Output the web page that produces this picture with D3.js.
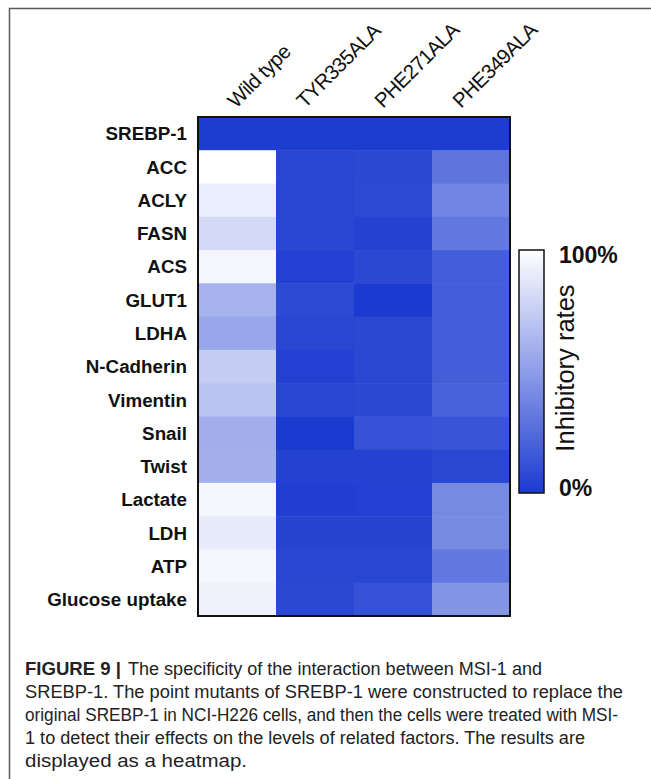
<!DOCTYPE html>
<html>
<head>
<meta charset="utf-8">
<script src="https://cdn.jsdelivr.net/npm/d3@7"></script>
<style>
  html, body { margin: 0; padding: 0; background: #fff; }
  svg { display: block; }
</style>
</head>
<body>
<script>
// ---------- DATA ----------
const columns = ["Wild type", "TYR335ALA", "PHE271ALA", "PHE349ALA"];
const rows = ["SREBP-1", "ACC", "ACLY", "FASN", "ACS", "GLUT1", "LDHA", "N-Cadherin",
              "Vimentin", "Snail", "Twist", "Lactate", "LDH", "ATP", "Glucose uptake"];
// inhibitory rates (%) per column, in row order
const wildType  = [1, 100, 91, 81, 95, 61, 55, 74, 70, 59, 60, 95, 90, 96, 93];
const tyr335ala = [1, 6, 6, 6, 3, 8, 6, 3, 6, 0, 4, 2, 5, 6, 7];
const phe271ala = [1, 7, 8, 4, 7, 0, 7, 7, 7, 12, 4, 3, 5, 6, 12];
const phe349ala = [1, 30, 38, 31, 18, 18, 18, 18, 20, 13, 7, 40, 41, 31, 46];
const legendTicks = ["0%", "100%"];
const legendTitle = "Inhibitory rates";
const captionBold = "FIGURE 9 |";
const captionLines = [
  "The specificity of the interaction between MSI-1 and",
  "SREBP-1. The point mutants of SREBP-1 were constructed to replace the",
  "original SREBP-1 in NCI-H226 cells, and then the cells were treated with MSI-",
  "1 to detect their effects on the levels of related factors. The results are",
  "displayed as a heatmap."
];

// ---------- LAYOUT ----------
const W = 651, H = 779;
const svg = d3.select("body").append("svg").attr("width", W).attr("height", H);

// frame
svg.append("path").attr("d", `M9.5,${H} L9.5,8.5 L${W},8.5`)
  .attr("fill", "none").attr("stroke", "#5a5a5a").attr("stroke-width", 1.5);

const series = [wildType, tyr335ala, phe271ala, phe349ala];
const cells = [];
series.forEach((vals, ci) => vals.forEach((v, ri) => cells.push({col: columns[ci], row: rows[ri], v})));

const x = d3.scaleBand().domain(columns).range([198, 510]);
const y = d3.scaleBand().domain(rows).range([117, 616]);
const color = d3.scaleLinear().domain([0, 100]).range(["#1b3ad0", "#ffffff"]).interpolate(d3.interpolateRgb);

svg.append("g").selectAll("rect").data(cells).join("rect")
  .attr("x", d => x(d.col)).attr("y", d => y(d.row))
  .attr("width", x.bandwidth() + 0.5).attr("height", y.bandwidth() + 0.5)
  .attr("fill", d => color(d.v));

svg.append("rect").attr("x", 198).attr("y", 117).attr("width", 312).attr("height", 499)
  .attr("fill", "none").attr("stroke", "#111").attr("stroke-width", 2);

// row labels
svg.append("g").selectAll("text").data(rows).join("text")
  .attr("x", 187).attr("y", d => y(d) + y.bandwidth() / 2)
  .attr("dy", "0.36em").attr("text-anchor", "end")
  .attr("font-family", "Liberation Sans, Arial, sans-serif").attr("font-weight", "bold")
  .attr("font-size", 18.8).attr("fill", "#111").text(d => d);

// column labels
svg.append("g").selectAll("text").data(columns).join("text")
  .attr("transform", (d, i) => `translate(${x(d) + x.bandwidth() / 2 - (i === 0 ? 1 : 10)},109) rotate(-45)`)
  .attr("font-family", "Liberation Sans, Arial, sans-serif").attr("letter-spacing", -0.6)
  .attr("font-size", 20.5).attr("fill", "#111").text(d => d);

// legend
const defs = svg.append("defs");
const grad = defs.append("linearGradient").attr("id", "lg").attr("x1", 0).attr("y1", 1).attr("x2", 0).attr("y2", 0);
d3.range(0, 101, 10).forEach(p => grad.append("stop").attr("offset", p + "%").attr("stop-color", color(p)));
const ly = d3.scaleLinear().domain([0, 100]).range([493, 250]);
svg.append("rect").attr("x", 519).attr("y", ly(100)).attr("width", 25).attr("height", ly(0) - ly(100))
  .attr("fill", "url(#lg)").attr("stroke", "#111").attr("stroke-width", 1.5);
svg.append("text").attr("x", 559).attr("y", ly(100) + 13).attr("font-family", "Liberation Sans, Arial, sans-serif")
  .attr("font-weight", "bold").attr("font-size", 23).attr("fill", "#111").text(legendTicks[1]);
svg.append("text").attr("x", 559).attr("y", ly(0) + 3).attr("font-family", "Liberation Sans, Arial, sans-serif")
  .attr("font-weight", "bold").attr("font-size", 23).attr("fill", "#111").text(legendTicks[0]);
svg.append("text").attr("transform", "translate(574,368) rotate(-90)").attr("text-anchor", "middle")
  .attr("font-family", "Liberation Sans, Arial, sans-serif").attr("font-size", 25.5).attr("fill", "#111")
  .text(legendTitle);

// caption
const capFont = "Liberation Sans, Arial, sans-serif";
const capEnds = [542, 623, 618, 585, 247];
svg.append("text").attr("x", 25).attr("y", 675).attr("font-family", capFont).attr("font-weight", "bold")
  .attr("font-size", 17.5).attr("fill", "#222").attr("textLength", 96).attr("lengthAdjust", "spacingAndGlyphs")
  .text(captionBold);
captionLines.forEach((line, i) => {
  const x0 = i === 0 ? 128 : 25;
  svg.append("text").attr("x", x0).attr("y", 675 + i * 23).attr("font-family", capFont)
    .attr("font-size", 17.5).attr("fill", "#222")
    .attr("textLength", capEnds[i] - x0).attr("lengthAdjust", "spacingAndGlyphs").text(line);
});
</script>
</body>
</html>
